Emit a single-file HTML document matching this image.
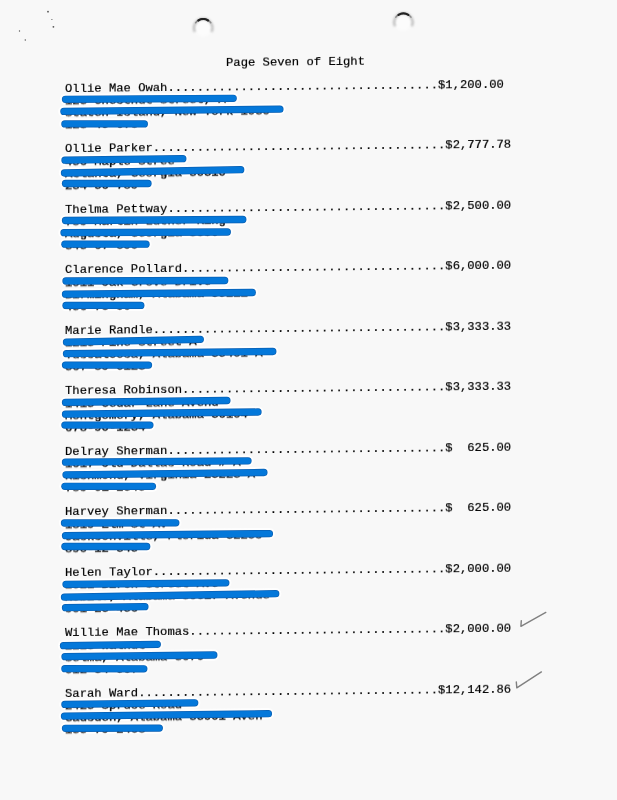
<!DOCTYPE html>
<html><head><meta charset="utf-8"><style>
html,body{margin:0;padding:0;}
body{width:617px;height:800px;overflow:hidden;background:#f8f8f8;position:relative;}
.t,.a{will-change:transform;-webkit-text-stroke:0.2px #000000;position:absolute;white-space:pre;font-family:"Liberation Mono",monospace;font-size:12.2px;line-height:12px;height:12px;color:#000000;font-weight:normal;transform-origin:0 9.0px;transform:skewY(-0.556deg) scaleY(0.9);}
svg{position:absolute;left:0;top:0;}
.a{transform:skewY(-0.556deg) scaleY(0.84);-webkit-text-stroke:0.45px #000;clip-path:inset(5.5px 0 0 0);}
</style></head><body>
<svg width="617" height="800" viewBox="0 0 617 800"><g stroke="#ffffff" stroke-width="11.3" stroke-linecap="round" fill="none" opacity="0.9">
<line x1="65.5" y1="99.3" x2="233.2" y2="98.3"/>
<line x1="63.9" y1="111.4" x2="279.9" y2="109.1"/>
<line x1="64.9" y1="123.9" x2="144.3" y2="123.9"/>
<line x1="65.0" y1="160.2" x2="182.8" y2="158.7"/>
<line x1="64.5" y1="173.0" x2="240.7" y2="169.7"/>
<line x1="65.5" y1="183.5" x2="148.0" y2="183.5"/>
<line x1="65.5" y1="220.5" x2="242.8" y2="219.5"/>
<line x1="64.0" y1="232.7" x2="227.3" y2="232.0"/>
<line x1="64.9" y1="244.2" x2="146.0" y2="244.2"/>
<line x1="66.0" y1="281.0" x2="224.7" y2="280.5"/>
<line x1="65.5" y1="294.2" x2="252.3" y2="292.5"/>
<line x1="66.0" y1="305.4" x2="140.8" y2="305.4"/>
<line x1="66.5" y1="342.2" x2="200.3" y2="339.4"/>
<line x1="66.5" y1="353.7" x2="272.8" y2="351.5"/>
<line x1="65.5" y1="365.1" x2="148.5" y2="365.1"/>
<line x1="65.5" y1="402.4" x2="226.9" y2="400.5"/>
<line x1="65.5" y1="414.2" x2="258.0" y2="412.0"/>
<line x1="64.9" y1="425.1" x2="149.9" y2="425.1"/>
<line x1="65.5" y1="462.2" x2="248.0" y2="460.9"/>
<line x1="66.0" y1="474.8" x2="263.9" y2="472.5"/>
<line x1="64.9" y1="486.3" x2="152.4" y2="486.3"/>
<line x1="64.5" y1="523.0" x2="175.8" y2="522.8"/>
<line x1="65.5" y1="535.6" x2="269.4" y2="533.6"/>
<line x1="64.9" y1="546.5" x2="146.7" y2="546.5"/>
<line x1="66.0" y1="584.3" x2="225.8" y2="582.9"/>
<line x1="64.5" y1="597.1" x2="275.7" y2="593.7"/>
<line x1="65.5" y1="607.7" x2="144.9" y2="606.7"/>
<line x1="63.5" y1="645.6" x2="157.3" y2="644.4"/>
<line x1="65.0" y1="656.6" x2="213.8" y2="655.0"/>
<line x1="64.9" y1="668.7" x2="143.8" y2="668.8"/>
<line x1="64.9" y1="704.4" x2="194.7" y2="702.8"/>
<line x1="64.5" y1="716.1" x2="268.4" y2="713.7"/>
<line x1="65.5" y1="728.3" x2="159.3" y2="728.1"/>
</g></svg>
<div class="t" style="left:226.00px;top:56.60px">Page&#160;Seven&#160;of&#160;Eight</div>
<div class="t" style="left:64.60px;top:82.70px">Ollie&#160;Mae&#160;Owah.....................................$1,200.00</div>
<div class="a" style="left:64.60px;top:95.15px">123&#160;Chestnut&#160;Street,&#160;A</div>
<div class="a" style="left:64.60px;top:107.25px">Staten&#160;Island,&#160;New&#160;York&#160;1030</div>
<div class="a" style="left:64.60px;top:119.34px">123-45-678</div>
<div class="t" style="left:64.60px;top:143.19px">Ollie&#160;Parker........................................$2,777.78</div>
<div class="a" style="left:64.60px;top:155.64px">456&#160;Maple&#160;Stree</div>
<div class="a" style="left:64.60px;top:167.74px">Atlanta,&#160;Georgia&#160;30310</div>
<div class="a" style="left:64.60px;top:179.83px">234-56-789</div>
<div class="t" style="left:64.60px;top:203.68px">Thelma&#160;Pettway......................................$2,500.00</div>
<div class="a" style="left:64.60px;top:216.13px">789&#160;Martin&#160;Luther&#160;King</div>
<div class="a" style="left:64.60px;top:228.23px">Augusta,&#160;Georgia&#160;3090</div>
<div class="a" style="left:64.60px;top:240.32px">345-67-890</div>
<div class="t" style="left:64.60px;top:264.17px">Clarence&#160;Pollard....................................$6,000.00</div>
<div class="a" style="left:64.60px;top:276.62px">1011&#160;Oak&#160;Grove&#160;Drive</div>
<div class="a" style="left:64.60px;top:288.72px">Birmingham,&#160;Alabama&#160;35211</div>
<div class="a" style="left:64.60px;top:300.81px">456-78-90</div>
<div class="t" style="left:64.60px;top:324.66px">Marie&#160;Randle........................................$3,333.33</div>
<div class="a" style="left:64.60px;top:337.11px">1213&#160;Pine&#160;Street&#160;A</div>
<div class="a" style="left:64.60px;top:349.21px">Tuscaloosa,&#160;Alabama&#160;35401&#160;A</div>
<div class="a" style="left:64.60px;top:361.30px">567-89-0123</div>
<div class="t" style="left:64.60px;top:385.15px">Theresa&#160;Robinson....................................$3,333.33</div>
<div class="a" style="left:64.60px;top:397.60px">1415&#160;Cedar&#160;Lane&#160;Avenu</div>
<div class="a" style="left:64.60px;top:409.70px">Montgomery,&#160;Alabama&#160;36104</div>
<div class="a" style="left:64.60px;top:421.79px">678-90-1234</div>
<div class="t" style="left:64.60px;top:445.64px">Delray&#160;Sherman......................................$&#160;&#160;625.00</div>
<div class="a" style="left:64.60px;top:458.09px">1617&#160;Old&#160;Dallas&#160;Road&#160;#&#160;A</div>
<div class="a" style="left:64.60px;top:470.19px">Richmond,&#160;Virginia&#160;23223&#160;A</div>
<div class="a" style="left:64.60px;top:482.28px">789-01-2345</div>
<div class="t" style="left:64.60px;top:506.13px">Harvey&#160;Sherman......................................$&#160;&#160;625.00</div>
<div class="a" style="left:64.60px;top:518.58px">1819&#160;Elm&#160;St&#160;Av</div>
<div class="a" style="left:64.60px;top:530.68px">Jacksonville,&#160;Florida&#160;32209</div>
<div class="a" style="left:64.60px;top:542.77px">890-12-345</div>
<div class="t" style="left:64.60px;top:566.62px">Helen&#160;Taylor........................................$2,000.00</div>
<div class="a" style="left:64.60px;top:579.07px">2021&#160;Birch&#160;Street&#160;Ave</div>
<div class="a" style="left:64.60px;top:591.17px">Mobile,&#160;Alabama&#160;36617&#160;Avenue</div>
<div class="a" style="left:64.60px;top:603.26px">901-23-456</div>
<div class="t" style="left:64.60px;top:627.11px">Willie&#160;Mae&#160;Thomas...................................$2,000.00</div>
<div class="a" style="left:64.60px;top:639.56px">2223&#160;Walnut</div>
<div class="a" style="left:64.60px;top:651.66px">Selma,&#160;Alabama&#160;3670</div>
<div class="a" style="left:64.60px;top:663.75px">012-34-567</div>
<div class="t" style="left:64.60px;top:687.60px">Sarah&#160;Ward.........................................$12,142.86</div>
<div class="a" style="left:64.60px;top:700.05px">2425&#160;Spruce&#160;Road</div>
<div class="a" style="left:64.60px;top:712.15px">Gadsden,&#160;Alabama&#160;35901&#160;Aven</div>
<div class="a" style="left:64.60px;top:724.24px">135-79-2468</div>
<svg width="617" height="800" viewBox="0 0 617 800">
<defs>
<linearGradient id="hg" x1="0" y1="0" x2="0" y2="1"><stop offset="0" stop-color="#333" stop-opacity="0.95"/><stop offset="0.45" stop-color="#888" stop-opacity="0.5"/><stop offset="0.8" stop-color="#bbb" stop-opacity="0"/></linearGradient>
<filter id="bl" x="-50%" y="-50%" width="200%" height="200%"><feGaussianBlur stdDeviation="0.8"/></filter><filter id="bl2" x="-50%" y="-50%" width="200%" height="200%"><feGaussianBlur stdDeviation="1.5"/></filter><filter id="bl3" x="-50%" y="-50%" width="200%" height="200%"><feGaussianBlur stdDeviation="0.45"/></filter>
</defs>
<g stroke="#0a5fb2" stroke-width="7.3" stroke-linecap="round" fill="none">
<line x1="65.5" y1="99.3" x2="233.2" y2="98.3"/>
<line x1="63.9" y1="111.4" x2="279.9" y2="109.1"/>
<line x1="64.9" y1="123.9" x2="144.3" y2="123.9"/>
<line x1="65.0" y1="160.2" x2="182.8" y2="158.7"/>
<line x1="64.5" y1="173.0" x2="240.7" y2="169.7"/>
<line x1="65.5" y1="183.5" x2="148.0" y2="183.5"/>
<line x1="65.5" y1="220.5" x2="242.8" y2="219.5"/>
<line x1="64.0" y1="232.7" x2="227.3" y2="232.0"/>
<line x1="64.9" y1="244.2" x2="146.0" y2="244.2"/>
<line x1="66.0" y1="281.0" x2="224.7" y2="280.5"/>
<line x1="65.5" y1="294.2" x2="252.3" y2="292.5"/>
<line x1="66.0" y1="305.4" x2="140.8" y2="305.4"/>
<line x1="66.5" y1="342.2" x2="200.3" y2="339.4"/>
<line x1="66.5" y1="353.7" x2="272.8" y2="351.5"/>
<line x1="65.5" y1="365.1" x2="148.5" y2="365.1"/>
<line x1="65.5" y1="402.4" x2="226.9" y2="400.5"/>
<line x1="65.5" y1="414.2" x2="258.0" y2="412.0"/>
<line x1="64.9" y1="425.1" x2="149.9" y2="425.1"/>
<line x1="65.5" y1="462.2" x2="248.0" y2="460.9"/>
<line x1="66.0" y1="474.8" x2="263.9" y2="472.5"/>
<line x1="64.9" y1="486.3" x2="152.4" y2="486.3"/>
<line x1="64.5" y1="523.0" x2="175.8" y2="522.8"/>
<line x1="65.5" y1="535.6" x2="269.4" y2="533.6"/>
<line x1="64.9" y1="546.5" x2="146.7" y2="546.5"/>
<line x1="66.0" y1="584.3" x2="225.8" y2="582.9"/>
<line x1="64.5" y1="597.1" x2="275.7" y2="593.7"/>
<line x1="65.5" y1="607.7" x2="144.9" y2="606.7"/>
<line x1="63.5" y1="645.6" x2="157.3" y2="644.4"/>
<line x1="65.0" y1="656.6" x2="213.8" y2="655.0"/>
<line x1="64.9" y1="668.7" x2="143.8" y2="668.8"/>
<line x1="64.9" y1="704.4" x2="194.7" y2="702.8"/>
<line x1="64.5" y1="716.1" x2="268.4" y2="713.7"/>
<line x1="65.5" y1="728.3" x2="159.3" y2="728.1"/>
</g>
<g stroke="#0478da" stroke-width="5.9" stroke-linecap="round" fill="none">
<line x1="65.5" y1="99.3" x2="233.2" y2="98.3"/>
<line x1="63.9" y1="111.4" x2="279.9" y2="109.1"/>
<line x1="64.9" y1="123.9" x2="144.3" y2="123.9"/>
<line x1="65.0" y1="160.2" x2="182.8" y2="158.7"/>
<line x1="64.5" y1="173.0" x2="240.7" y2="169.7"/>
<line x1="65.5" y1="183.5" x2="148.0" y2="183.5"/>
<line x1="65.5" y1="220.5" x2="242.8" y2="219.5"/>
<line x1="64.0" y1="232.7" x2="227.3" y2="232.0"/>
<line x1="64.9" y1="244.2" x2="146.0" y2="244.2"/>
<line x1="66.0" y1="281.0" x2="224.7" y2="280.5"/>
<line x1="65.5" y1="294.2" x2="252.3" y2="292.5"/>
<line x1="66.0" y1="305.4" x2="140.8" y2="305.4"/>
<line x1="66.5" y1="342.2" x2="200.3" y2="339.4"/>
<line x1="66.5" y1="353.7" x2="272.8" y2="351.5"/>
<line x1="65.5" y1="365.1" x2="148.5" y2="365.1"/>
<line x1="65.5" y1="402.4" x2="226.9" y2="400.5"/>
<line x1="65.5" y1="414.2" x2="258.0" y2="412.0"/>
<line x1="64.9" y1="425.1" x2="149.9" y2="425.1"/>
<line x1="65.5" y1="462.2" x2="248.0" y2="460.9"/>
<line x1="66.0" y1="474.8" x2="263.9" y2="472.5"/>
<line x1="64.9" y1="486.3" x2="152.4" y2="486.3"/>
<line x1="64.5" y1="523.0" x2="175.8" y2="522.8"/>
<line x1="65.5" y1="535.6" x2="269.4" y2="533.6"/>
<line x1="64.9" y1="546.5" x2="146.7" y2="546.5"/>
<line x1="66.0" y1="584.3" x2="225.8" y2="582.9"/>
<line x1="64.5" y1="597.1" x2="275.7" y2="593.7"/>
<line x1="65.5" y1="607.7" x2="144.9" y2="606.7"/>
<line x1="63.5" y1="645.6" x2="157.3" y2="644.4"/>
<line x1="65.0" y1="656.6" x2="213.8" y2="655.0"/>
<line x1="64.9" y1="668.7" x2="143.8" y2="668.8"/>
<line x1="64.9" y1="704.4" x2="194.7" y2="702.8"/>
<line x1="64.5" y1="716.1" x2="268.4" y2="713.7"/>
<line x1="65.5" y1="728.3" x2="159.3" y2="728.1"/>
</g>
<g><circle cx="203.2" cy="28.0" r="8.7" fill="#ffffff" opacity="0.55" filter="url(#bl2)"/>
<path d="M194.86,31.89 A9.2,9.2 0 1 1 211.54,31.89" fill="none" stroke="#b4b4b4" stroke-width="2" filter="url(#bl)"/>
<path d="M195.66,22.72 A9.2,9.2 0 0 1 210.74,22.72" fill="none" stroke="#8a8a8a" stroke-width="1.6" stroke-linecap="round" filter="url(#bl3)"/>
<path d="M198.32,20.50 A9.2,9.2 0 0 1 208.08,20.50" fill="none" stroke="#222" stroke-width="2.2" stroke-linecap="round" filter="url(#bl3)"/><circle cx="403.4" cy="22.4" r="8.7" fill="#ffffff" opacity="0.55" filter="url(#bl2)"/>
<path d="M395.06,26.29 A9.2,9.2 0 1 1 411.74,26.29" fill="none" stroke="#b4b4b4" stroke-width="2" filter="url(#bl)"/>
<path d="M395.86,17.12 A9.2,9.2 0 0 1 410.94,17.12" fill="none" stroke="#8a8a8a" stroke-width="1.6" stroke-linecap="round" filter="url(#bl3)"/>
<path d="M398.52,14.90 A9.2,9.2 0 0 1 408.28,14.90" fill="none" stroke="#222" stroke-width="2.2" stroke-linecap="round" filter="url(#bl3)"/></g>
<g fill="none" stroke="#808080" stroke-width="1.4" stroke-linecap="round" stroke-linejoin="round">
<polyline points="521.3,620.6 520.9,626.4 545.8,612.4"/>
<polyline points="516.3,681.9 516.8,687.9 541.4,671.9"/>
</g>
<g fill="#555">
<circle cx="48" cy="11.7" r="0.9"/><circle cx="51.9" cy="19.5" r="0.6"/><circle cx="53.4" cy="26.8" r="0.9"/><circle cx="19.5" cy="31" r="0.7"/><circle cx="25.3" cy="40" r="0.7"/>
</g>
</svg>
</body></html>
